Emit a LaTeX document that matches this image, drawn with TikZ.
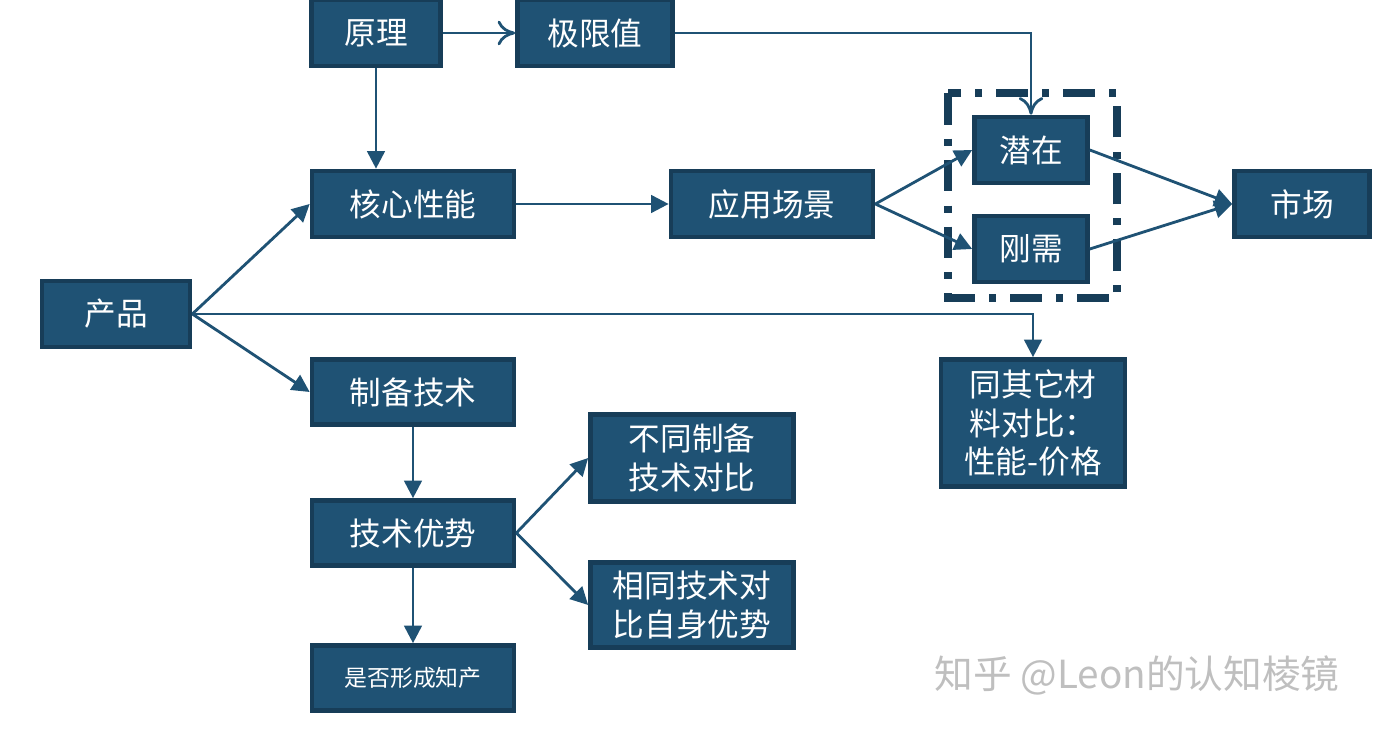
\documentclass[tikz,border=0pt]{standalone}
\usepackage{fontspec}
\setmainfont{Noto Sans CJK SC}
\usetikzlibrary{arrows, arrows.meta, positioning, calc}
\definecolor{boxfill}{HTML}{1F5274}
\definecolor{boxline}{HTML}{173D58}
\definecolor{linkc}{HTML}{1F5274}
\begin{document}
\begin{tikzpicture}[x=0.01cm, y=-0.01cm,
    block/.style={draw=boxline, line width=1.3pt, fill=boxfill, text=white, font=\fontsize{9}{11}\selectfont, align=center, inner sep=0pt},
    link/.style={draw=linkc, line width=0.8pt, -{Triangle[length=5pt, width=5pt]}},
    openlink/.style={draw=linkc, line width=0.8pt, -{To[length=5pt, width=7pt]}}
]
    \useasboundingbox (0,0) rectangle (1387,731);
    % top row
    \node[block, minimum width=1.29cm, minimum height=0.66cm] (yl) at (376,33) {原理};
    \node[block, minimum width=1.55cm, minimum height=0.66cm] (jx) at (595,33) {极限值};
    % middle row
    \node[block, minimum width=2.02cm, minimum height=0.66cm] (hx) at (413,204) {核心性能};
    \node[block, minimum width=2.02cm, minimum height=0.66cm] (yy) at (772,204) {应用场景};
    \node[block, minimum width=1.13cm, minimum height=0.66cm] (qz) at (1031,150) {潜在};
    \node[block, minimum width=1.13cm, minimum height=0.66cm] (gx) at (1031,249) {刚需};
    \node[block, minimum width=1.35cm, minimum height=0.66cm] (sc) at (1302,204) {市场};
    \draw[boxline, line width=2.2pt, dash pattern=on 9pt off 4pt on 2pt off 4pt] (948,93) rectangle (1117,298);
    % product
    \node[block, minimum width=1.48cm, minimum height=0.66cm] (cp) at (116,314) {产品};
    \node[block, minimum width=1.84cm, minimum height=1.27cm] (tq) at (1033,423) {同其它材\\料对比：\\性能-价格};
    % lower part
    \node[block, minimum width=2.02cm, minimum height=0.65cm] (zb) at (413,392) {制备技术};
    \node[block, minimum width=2.02cm, minimum height=0.65cm] (ys) at (413,533) {技术优势};
    \node[block, minimum width=2.03cm, minimum height=0.87cm] (bt) at (692,458) {不同制备\\技术对比};
    \node[block, minimum width=2.03cm, minimum height=0.85cm] (xt) at (692,605) {相同技术对\\比自身优势};
    \node[block, minimum width=2.02cm, minimum height=0.65cm, font=\fontsize{6.5}{8}\selectfont] (zc) at (413,678) {是否形成知产};
    % connectors
    \draw[openlink] (yl) -- (jx);
    \draw[openlink] (jx.east) -| (qz.north);
    \draw[link] (yl.south) -- (yl.south |- hx.north);
    \draw[link] (hx) -- (yy);
    \draw[link] (yy.east) -- (qz.west);
    \draw[link] (yy.east) -- (gx.west);
    \draw[link] (qz.east) -- (sc.west);
    \draw[link] (gx.east) -- (sc.west);
    \draw[link] (cp.east) -- (hx.west);
    \draw[link] (cp.east) -- (zb.west);
    \draw[link] (cp.east) -| (tq.north);
    \draw[link] (zb) -- (ys);
    \draw[link] (ys.east) -- (bt.west);
    \draw[link] (ys.east) -- (xt.west);
    \draw[link] (ys) -- (zc);
    % watermark
    \node[text=black!25, font=\fontsize{11}{13}\selectfont, anchor=east] (wm) at (1352,675) {知乎 @Leon的认知棱镜};
\end{tikzpicture}
\end{document}
